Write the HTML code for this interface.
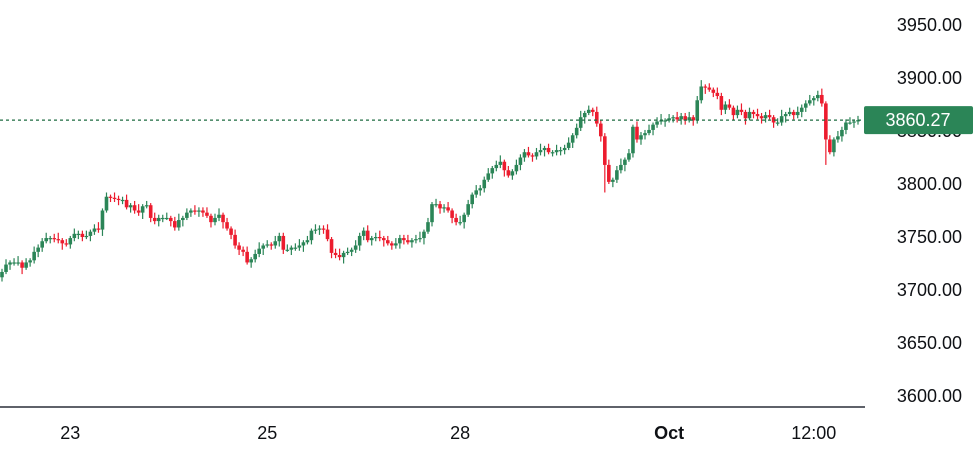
<!DOCTYPE html>
<html><head><meta charset="utf-8"><style>
html,body{margin:0;padding:0;background:#fff;}
svg text{font-family:"Liberation Sans",sans-serif;}
</style></head><body>
<svg id="chart" width="980" height="455" xmlns="http://www.w3.org/2000/svg">
<g id="candles"></g>
<g id="yaxis"></g>
<g id="xaxis"></g>
</svg>
<script>
const closes=[3717,3724,3726,3726,3726,3721,3726,3728,3736,3740,3746,3749,3749,3748,3747,3744,3743,3749,3753,3753,3750,3751,3755,3758,3757,3775,3788,3787,3786,3785,3785,3778,3780,3775,3773,3779,3780,3768,3765,3768,3768,3768,3765,3759,3766,3768,3773,3775,3774,3775,3773,3770,3764,3768,
3771,3764,3758,3752,3742,3738,3736,3726,3729,3734,3739,3742,3743,3742,3746,3751,3738,3738,3740,3740,3742,3745,3747,3756,3757,3758,3757,3748,3735,3733,3731,3735,3736,3738,3742,3751,3756,3747,3749,3750,3749,3747,3744,3742,3744,3749,3747,3745,3747,3748,3749,3755,3764,3781,3781,
3777,3778,3775,3768,3764,3764,3771,3781,3790,3794,3796,3804,3810,3815,3818,3821,3813,3808,3812,3818,3825,3830,3827,3826,3830,3832,3834,3830,3830,3832,3832,3834,3839,3846,3853,3863,3867,3870,3868,3857,3845,3818,3802,3804,3813,3818,3823,3829,3854,3842,3846,3848,3851,3856,3859,
3860,3860,3862,3863,3861,3864,3860,3863,3860,3879,3892,3891,3889,3886,3883,3870,3875,3872,3865,3870,3868,3862,3868,3866,3864,3862,3865,3863,3858,3858,3864,3866,3868,3865,3868,3872,3876,3879,3881,3884,3876,3842,3830,3842,3845,3851,3858,3858,3859,3860.27];
const firstOpen=3712;
const wickUp=[3,5,2,4,6,2,4,2,5,3];
const wickDn=[4,2,5,3,3,6,2,4,3,5];
const extraLowIdx=[150,205];
const extraLowVal=[3792,3818];
const yTicks=[3950,3900,3850,3800,3750,3700,3650,3600];
const xTickLabels=["23","25","28","Oct","12:00"];
const xTickIndex=[17,66,114,166,202];
const lastPrice=3860.27;

const NS="http://www.w3.org/2000/svg";
function yScale(p){return 78+(3900-p)*1.06;}
function xScale(i){return 2+i*(856/(closes.length-1));}
function mk(tag,attrs,parent){const e=document.createElementNS(NS,tag);for(const k in attrs)e.setAttribute(k,attrs[k]);parent.appendChild(e);return e;}
const gC=document.getElementById('candles'),gY=document.getElementById('yaxis'),gX=document.getElementById('xaxis');
const GREEN="#2b8557",RED="#ec1c2e";
for(let i=0;i<closes.length;i++){
  const o=i?closes[i-1]:firstOpen,c=closes[i];
  const hi=Math.max(o,c)+wickUp[i%wickUp.length];
  let lo=Math.min(o,c)-wickDn[i%wickDn.length];
  const k=extraLowIdx.indexOf(i); if(k>=0) lo=Math.min(lo,extraLowVal[k]);
  const col=c>=o?GREEN:RED,x=xScale(i);
  const g=mk('g',{},gC);
  
  
  mk('line',{x1:x,x2:x,y1:yScale(hi),y2:yScale(lo),stroke:col,'stroke-width':1.2},g);
  const top=yScale(Math.max(o,c)),h=Math.max(1.2,yScale(Math.min(o,c))-top);
  mk('rect',{x:x-1.8,y:top,width:3.6,height:h,fill:col},g);
}
yTicks.forEach(t=>{
  const tx=mk('text',{x:962,y:yScale(t)+6,'text-anchor':'end','font-size':18,fill:'#0f1115'},gY);
  tx.textContent=t.toFixed(2);
  
  
});
const pl=mk('line',{x1:0,x2:864,y1:yScale(lastPrice),y2:yScale(lastPrice),stroke:'#1e6b40','stroke-width':1.3,'stroke-dasharray':'3,3'},gY);


const lb=mk('rect',{x:864,y:yScale(lastPrice)-14,width:109,height:28,rx:2,fill:'#2b8557'},gY);


const lt=mk('text',{x:918,y:yScale(lastPrice)+6,'text-anchor':'middle','font-size':18,fill:'#fff'},gY);
lt.textContent=lastPrice.toFixed(2);


const ax=mk('line',{x1:0,x2:865,y1:407,y2:407,stroke:'#2a2e39','stroke-width':1.5},gX);


xTickLabels.forEach((l,k)=>{
  const t=mk('text',{x:xScale(xTickIndex[k]),y:439,'text-anchor':'middle','font-size':18,fill:'#0f1115','font-weight':l==='Oct'?'bold':'normal'},gX);
  t.textContent=l;
  
  
});
</script>
</body></html>
